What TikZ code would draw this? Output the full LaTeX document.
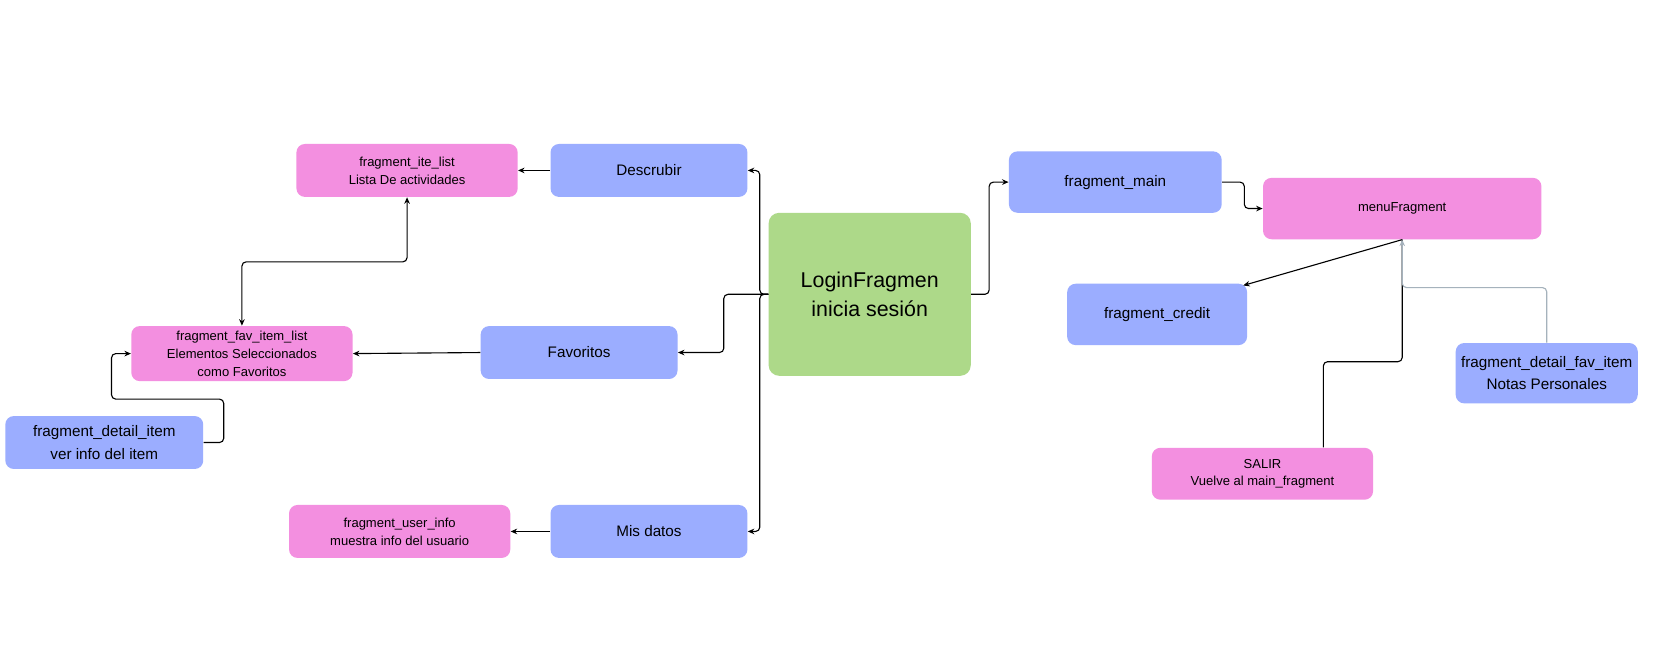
\documentclass[tikz,border=0pt]{standalone}
\usepackage{fontspec}
\setmainfont{Liberation Sans}
\usetikzlibrary{arrows.meta}

\definecolor{fragblue}{RGB}{155,173,255}
\definecolor{fragpink}{RGB}{243,143,224}
\definecolor{fraggreen}{RGB}{173,217,137}
\definecolor{linkgray}{RGB}{165,178,188}

\begin{document}
\begin{tikzpicture}[x=0.02cm,y=-0.02cm,
  >={Stealth[length=3.5pt,width=3pt]},
  bluebox/.style={fill=fragblue,rounded corners=0.16cm,inner sep=0pt,align=center,
    font=\fontsize{8.2}{12}\selectfont},
  pinkbox/.style={fill=fragpink,rounded corners=0.16cm,inner sep=0pt,align=center,
    font=\fontsize{7}{9.6}\selectfont},
  greenbox/.style={fill=fraggreen,rounded corners=0.2cm,inner sep=0pt,align=center,
    font=\fontsize{11.5}{15.3}\selectfont},
  link/.style={line width=0.6pt,rounded corners=0.08cm}]
\useasboundingbox[fill=white] (0,0) rectangle (1568,634);

% Login and its menu
\node[greenbox,minimum width=3.82cm,minimum height=3.08cm] (login) at (821.5,278) {LoginFragmen\\inicia sesión};
\node[bluebox,minimum width=3.72cm,minimum height=1cm] (desc) at (613,161) {Descrubir};
\node[bluebox,minimum width=3.72cm,minimum height=1cm] (fav) at (547,333) {Favoritos};
\node[bluebox,minimum width=3.72cm,minimum height=1cm] (misdatos) at (613,502) {Mis datos};

% Left side fragments
\node[pinkbox,minimum width=4.18cm,minimum height=1cm] (itelist) at (384.5,161) {fragment\_ite\_list\\Lista De actividades};
\node[pinkbox,minimum width=4.18cm,minimum height=1.04cm] (favlist) at (228.5,334) {fragment\_fav\_item\_list\\Elementos Seleccionados\\como Favoritos};
\node[bluebox,minimum width=3.74cm,minimum height=1cm] (detail) at (98.5,418) {fragment\_detail\_item\\ver info del item};
\node[pinkbox,minimum width=4.18cm,minimum height=1cm] (userinfo) at (377.5,502) {fragment\_user\_info\\muestra info del usuario};

% Right side fragments
\node[bluebox,minimum width=4.02cm,minimum height=1.16cm] (main) at (1053.5,172) {fragment\_main};
\node[pinkbox,minimum width=5.26cm,minimum height=1.16cm] (menu) at (1324.5,197) {menuFragment};
\node[bluebox,minimum width=3.4cm,minimum height=1.16cm] (credit) at (1093,297) {fragment\_credit};
\node[bluebox,minimum width=3.44cm,minimum height=1.14cm] (detailfav) at (1461,352.5) {fragment\_detail\_fav\_item\\Notas Personales};
\node[pinkbox,minimum width=4.18cm,minimum height=0.98cm] (salir) at (1192.5,447.5) {SALIR\\Vuelve al main\_fragment};

% Connectors
\draw[link,->] (login.west) -- ++(-8,0) |- (desc.east);
\draw[link,->] (login.west) -- ++(-8,0) |- (misdatos.east);
\draw[link,->] (login.west) -- ++(-42,0) |- (fav.east);
\draw[link,->] (desc.west) -- (itelist.east);
\draw[link,->] (fav.west) -- (favlist.east);
\draw[link,->] (misdatos.west) -- (userinfo.east);
\draw[link,<->] (itelist.south) -- ++(0,61) -| (favlist.north);
\draw[link,->] (detail.east) -- ++(19,0) -- ++(0,-41) -- ++(-106,0) |- (favlist.west);
\draw[link,->] (login.east) -- ++(17,0) |- (main.west);
\draw[link,->] (main.east) -- ++(21,0) |- (menu.west);
\draw[link,->] (menu.south) -- ([xshift=-0.08cm,yshift=-0.04cm]credit.north east);
\draw[link] ([xshift=1.15cm]salir.north) -- ++(0,-81) -| (menu.south);
\draw[link,linkgray,->] (detailfav.north) -- ++(0,-52) -| (menu.south);
\end{tikzpicture}
\end{document}
